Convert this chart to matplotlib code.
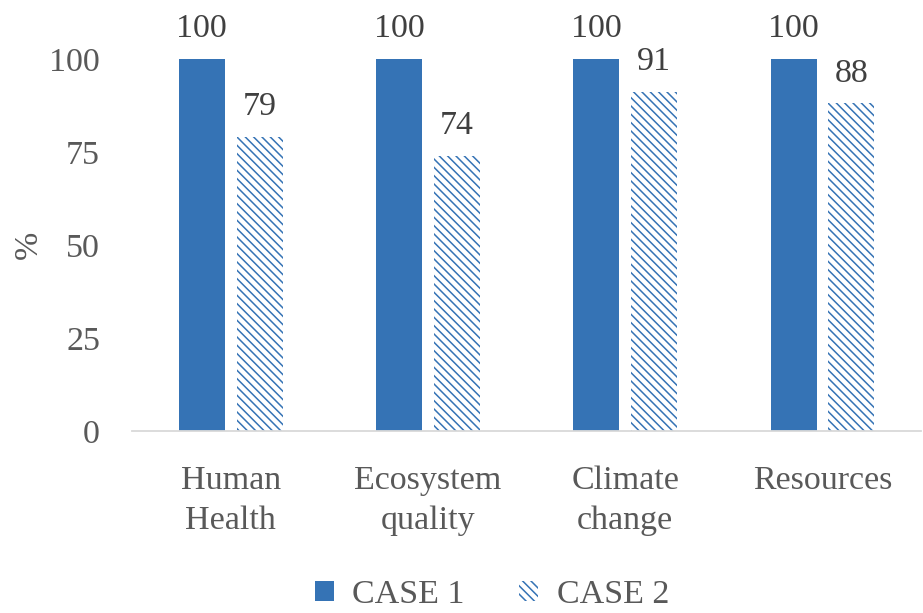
import numpy as np
import matplotlib.pyplot as plt
from matplotlib.patches import Patch

plt.rcParams['font.family'] = ['Liberation Serif', 'DejaVu Serif']
plt.rcParams['hatch.linewidth'] = 1.1

# impact categories and relative scores (%)
categories = ["Human\nHealth", "Ecosystem\nquality", "Climate\nchange", "Resources"]
case1 = [100, 100, 100, 100]
case2 = [79, 74, 91, 88]
yticks = [0, 25, 50, 75, 100]

blue = "#3573B5"
grey = "#595959"
fs = 24.5
hatch = "\\\\\\\\"

fig = plt.figure(figsize=(9.23, 6.13), dpi=100)
ax = fig.add_axes([0.143, 0.297, 0.855, 0.607])

x = np.arange(len(categories))
w = 0.233
off = w / 2 + 0.03

b1 = ax.bar(x - off, case1, w, color=blue, edgecolor=blue, linewidth=0)
plt.rcParams['hatch.color'] = blue
b2 = ax.bar(x + off, case2, w, color="white", edgecolor=blue,
            hatch=hatch, linewidth=0)

for bars, vals in ((b1, case1), (b2, case2)):
    for r, v in zip(bars, vals):
        ax.text(r.get_x() + r.get_width() / 2, v + 4, str(v), ha="center",
                va="bottom", fontsize=fs, color="#404040", clip_on=False)

ax.set_xlim(-0.5, len(categories) - 0.5)
ax.set_ylim(0, 100)
ax.set_yticks(yticks)
ax.set_xticks(x)
ax.set_xticklabels(categories, fontsize=fs, color=grey, linespacing=1.4)
ax.tick_params(axis="y", labelsize=fs, colors=grey, length=0, pad=23)
ax.tick_params(axis="x", length=0, pad=25)

for s in ("top", "right", "left"):
    ax.spines[s].set_visible(False)
ax.spines["bottom"].set_color("#D9D9D9")
ax.spines["bottom"].set_linewidth(1.3)

ax.set_ylabel("%", fontsize=fs, color=grey, labelpad=4)

handles = [Patch(facecolor=blue, edgecolor=blue, linewidth=0),
           Patch(facecolor="white", edgecolor=blue, hatch=hatch, linewidth=0)]
fig.legend(handles, ["CASE 1", "CASE 2"], loc="lower center",
           bbox_to_anchor=(0.533, -0.045), ncol=2, frameon=False, fontsize=fs,
           labelcolor=grey, handlelength=0.55, handleheight=0.55,
           handletextpad=0.55, columnspacing=1.6)

fig.savefig("out.png", dpi=100)
